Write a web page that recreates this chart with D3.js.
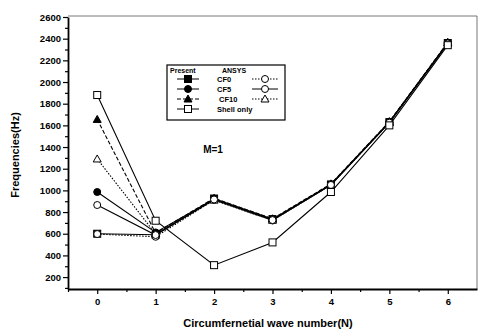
<!DOCTYPE html>
<style>
body { margin: 0; background: #fff; }
svg { font-family: "Liberation Sans", Arial, sans-serif; }
.axis text { font-size: 9.5px; font-weight: bold; fill: #000; }
.axis path, .axis line { stroke: #000; }
.series { fill: none; stroke: #000; stroke-width: 1.1px; }
</style>
<svg width="478" height="331"></svg>
<script src="https://d3js.org/d3.v7.min.js"></script>
<script>

var N = [0, 1, 2, 3, 4, 5, 6];
var yTicks = [200, 400, 600, 800, 1000, 1200, 1400, 1600, 1800, 2000, 2200, 2400, 2600];

var shellOnly   = [1880, 720, 310, 520, 985, 1600, 2340];
var presentCF0  = [600, 590, 925, 735, 1055, 1630, 2360];
var presentCF5  = [985, 612, 920, 730, 1055, 1630, 2362];
var presentCF10 = [1655, 605, 928, 738, 1060, 1635, 2366];
var ansysCF0    = [597, 572, 912, 722, 1050, 1625, 2356];
var ansysCF5    = [865, 588, 916, 726, 1050, 1625, 2356];
var ansysCF10   = [1290, 598, 910, 724, 1052, 1627, 2360];

var series = [
  {name: 'CF10', vals: presentCF10, dash: '4,2',     mark: 'triangle', fill: '#000'},
  {name: 'CF5',  vals: presentCF5,  dash: null,      mark: 'circle',   fill: '#000'},
  {name: 'CF0',  vals: presentCF0,  dash: null,      mark: 'square',   fill: '#000'},
  {name: 'CF0',  vals: ansysCF0,    dash: '1.5,1.5', mark: 'circle',   fill: '#fff'},
  {name: 'CF10', vals: ansysCF10,   dash: '1.5,1.5', mark: 'triangle', fill: '#fff'},
  {name: 'CF5',  vals: ansysCF5,    dash: null,      mark: 'circle',   fill: '#fff'},
  {name: 'Shell only', vals: shellOnly, dash: null,  mark: 'square',   fill: '#fff'}
];

var svg = d3.select('svg'),
    pLeft = 68, pRight = 477, pTop = 16, pBottom = 289;

var x = d3.scaleLinear().domain([-0.5, 6.5]).range([pLeft, pRight]);
var y = d3.scaleLinear().domain([90, 2600]).range([pBottom, pTop + 1]);

// frame
svg.append('path')
   .attr('d', 'M' + pLeft + ',' + pTop + 'H' + pRight + 'V' + pBottom)
   .attr('fill', 'none').attr('stroke', '#555').attr('stroke-width', 0.8);

// minor ticks
svg.append('g').attr('class', 'axis')
   .attr('transform', 'translate(' + pLeft + ',0)')
   .call(d3.axisLeft(y).tickValues(d3.range(100, 2600, 200)).tickSize(3).tickFormat(''))
   .select('.domain').remove();
svg.append('g').attr('class', 'axis')
   .attr('transform', 'translate(0,' + pBottom + ')')
   .call(d3.axisBottom(x).tickValues([-0.5, 0.5, 1.5, 2.5, 3.5, 4.5, 5.5]).tickSize(3).tickFormat(''))
   .select('.domain').remove();

var yAxis = svg.append('g').attr('class', 'axis')
   .attr('transform', 'translate(' + pLeft + ',0)')
   .call(d3.axisLeft(y).tickValues(yTicks).tickSize(5).tickPadding(2).tickSizeOuter(0).tickFormat(d3.format('d')));
var xAxis = svg.append('g').attr('class', 'axis')
   .attr('transform', 'translate(0,' + pBottom + ')')
   .call(d3.axisBottom(x).tickValues(N).tickSize(5).tickPadding(4).tickSizeOuter(0).tickFormat(d3.format('d')));
svg.selectAll('.axis .domain').attr('stroke-width', 1.8);
svg.selectAll('.axis line').attr('stroke-width', 1.2);

// axis titles
svg.append('text')
   .attr('transform', 'translate(19,155) rotate(-90)')
   .attr('text-anchor', 'middle')
   .style('font-size', '11px').style('font-weight', 'bold')
   .text('Frequencies(Hz)');
svg.append('text')
   .attr('x', 268).attr('y', 327)
   .attr('text-anchor', 'middle')
   .style('font-size', '11px').style('font-weight', 'bold')
   .text('Circumfernetial wave number(N)');

function marker(g, type, cx, cy, fill) {
  if (type == 'square') {
    g.append('rect').attr('x', cx - 3.5).attr('y', cy - 3.5).attr('width', 7).attr('height', 7)
     .attr('fill', fill).attr('stroke', '#000').attr('stroke-width', 1);
  } else if (type == 'circle') {
    g.append('circle').attr('cx', cx).attr('cy', cy).attr('r', 3.5)
     .attr('fill', fill).attr('stroke', '#000').attr('stroke-width', 1);
  } else {
    g.append('path')
     .attr('d', 'M' + cx + ',' + (cy - 4) + 'L' + (cx + 4) + ',' + (cy + 3) + 'L' + (cx - 4) + ',' + (cy + 3) + 'Z')
     .attr('fill', fill).attr('stroke', '#000').attr('stroke-width', 1);
  }
}

var line = d3.line().x(function(d, i) { return x(N[i]); }).y(function(d) { return y(d); });

series.forEach(function(s) {
  var g = svg.append('g');
  g.append('path').attr('class', 'series').attr('d', line(s.vals))
   .attr('stroke-dasharray', s.dash);
  s.vals.forEach(function(v, i) { marker(g, s.mark, x(N[i]), y(v), s.fill); });
});

// legend
var lg = svg.append('g');
lg.append('rect').attr('x', 167).attr('y', 65).attr('width', 118).attr('height', 55)
  .attr('fill', '#fff').attr('stroke', '#000').attr('stroke-width', 1.2);
lg.append('text').attr('x', 170).attr('y', 72.5).style('font-size', '7px').style('font-weight', 'bold').text('Present');
lg.append('text').attr('x', 222).attr('y', 72.5).style('font-size', '7px').style('font-weight', 'bold').text('ANSYS');

var legRows = [
  {label: 'CF0', p: series[2], a: series[3], ly: 81.5},
  {label: 'CF5', p: series[1], a: series[5], ly: 91.5},
  {label: 'CF10', p: series[0], a: series[4], ly: 101.5},
  {label: 'Shell only', p: series[6], a: null, ly: 111.5}
];
legRows.forEach(function(r) {
  lg.append('line').attr('x1', 177).attr('x2', 199).attr('y1', r.ly - 2.5).attr('y2', r.ly - 2.5)
    .attr('stroke', '#000').attr('stroke-width', 1).attr('stroke-dasharray', r.p.dash);
  marker(lg, r.p.mark, 188, r.ly - 2.5, r.p.fill);
  lg.append('text').attr('x', r.label == 'CF10' ? 219 : 217).attr('y', r.ly)
    .style('font-size', '7.5px').style('font-weight', 'bold').text(r.label);
  if (r.a) {
    lg.append('line').attr('x1', 252).attr('x2', 278).attr('y1', r.ly - 2.5).attr('y2', r.ly - 2.5)
      .attr('stroke', '#000').attr('stroke-width', 1).attr('stroke-dasharray', r.a.dash);
    marker(lg, r.a.mark, 265, r.ly - 2.5, r.a.fill);
  }
});

svg.append('text').attr('x', 213).attr('y', 153).attr('text-anchor', 'middle')
   .style('font-size', '10px').style('font-weight', 'bold').text('M=1');

</script>
